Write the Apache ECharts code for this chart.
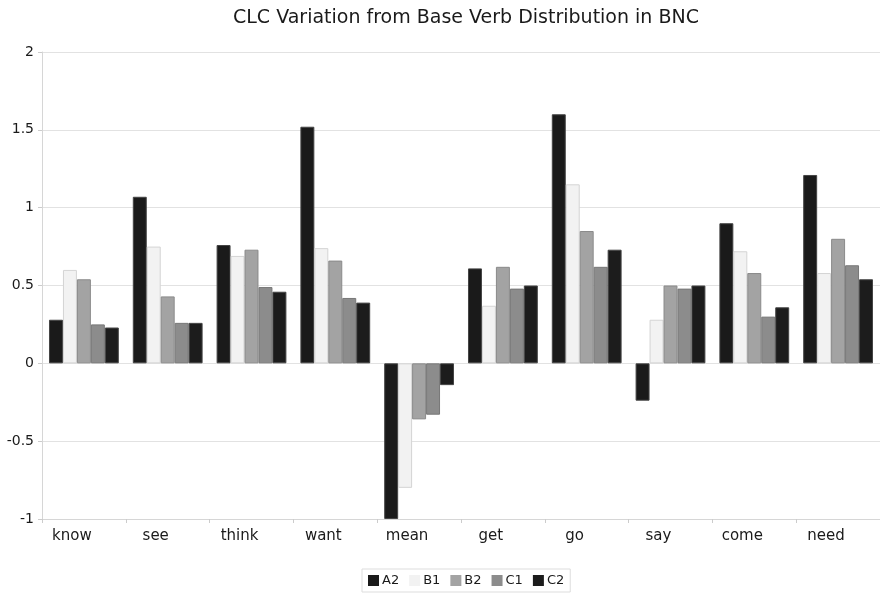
<!DOCTYPE html>
<html>
<head>
<meta charset="utf-8">
<script src="https://cdn.jsdelivr.net/npm/echarts@6/dist/echarts.min.js"></script>
<style>
  html, body { margin: 0; padding: 0; background: #fff; }
  #chart { width: 880px; height: 593px; }
</style>
</head>
<body>
<div id="chart"></div>
<script>
  var verbs = ['know', 'see', 'think', 'want', 'mean', 'get', 'go', 'say', 'come', 'need']
  var levels = ['A2', 'B1', 'B2', 'C1', 'C2']

  var a2 = [0.28, 1.07, 0.76, 1.52, -1.0, 0.61, 1.60, -0.24, 0.90, 1.21]
  var b1 = [0.60, 0.75, 0.69, 0.74, -0.80, 0.37, 1.15, 0.28, 0.72, 0.58]
  var b2 = [0.54, 0.43, 0.73, 0.66, -0.36, 0.62, 0.85, 0.50, 0.58, 0.80]
  var c1 = [0.25, 0.26, 0.49, 0.42, -0.33, 0.48, 0.62, 0.48, 0.30, 0.63]
  var c2 = [0.23, 0.26, 0.46, 0.39, -0.14, 0.50, 0.73, 0.50, 0.36, 0.54]

  var yTicks = [-1, -0.5, 0, 0.5, 1, 1.5, 2]

  var values = [a2, b1, b2, c1, c2]
  var fills = ['#1a1a1a', '#f2f2f2', '#a3a3a3', '#8c8c8c', '#1c1c1c']
  var borders = ['#444', '#d4d4d4', '#8a8a8a', '#777', '#444']

  var chart = echarts.init(document.getElementById('chart'))

  chart.setOption({
    backgroundColor: '#fff',
    textStyle: {fontFamily: 'DejaVu Sans'},
    title: {
      text: 'CLC Variation from Base Verb Distribution in BNC',
      left: 228,
      top: 4,
      textStyle: {fontFamily: 'DejaVu Sans', fontSize: 19, fontWeight: 'normal', color: '#1a1a1a'}
    },
    legend: {
      data: levels,
      icon: 'rect',
      bottom: 1,
      left: 362,
      itemWidth: 11,
      itemHeight: 11,
      itemGap: 10,
      padding: [5, 6],
      borderColor: '#ddd',
      borderWidth: 1,
      itemStyle: {borderWidth: 0},
      textStyle: {fontFamily: 'DejaVu Sans', fontSize: 13, color: '#1a1a1a', padding: [0, 0, 0, -2]}
    },
    grid: {
      left: 42,
      right: 0,
      top: 52,
      bottom: 74
    },
    xAxis: {
      type: 'category',
      data: verbs,
      axisLine: {onZero: false, lineStyle: {color: '#d6d6d6'}},
      axisTick: {show: true, length: 4, lineStyle: {color: '#ccc'}},
      axisLabel: {
        fontFamily: 'DejaVu Sans',
        fontSize: 15,
        color: '#1a1a1a',
        margin: 10,
        align: 'center',
        padding: [0, 24, 0, 0]
      }
    },
    yAxis: {
      type: 'value',
      min: yTicks[0],
      max: yTicks[yTicks.length - 1],
      interval: 0.5,
      axisLine: {show: true, lineStyle: {color: '#d6d6d6'}},
      axisTick: {show: true, length: 4, lineStyle: {color: '#ccc'}},
      splitLine: {lineStyle: {color: '#e2e2e2'}},
      axisLabel: {fontFamily: 'DejaVu Sans', fontSize: 14, color: '#1a1a1a', margin: 8}
    },
    series: levels.map(function (name, i) {
      return {
        name: name,
        type: 'bar',
        data: values[i],
        barGap: '0%',
        barCategoryGap: '16.7%',
        itemStyle: {color: fills[i], borderColor: borders[i], borderWidth: 1}
      }
    })
  })
</script>
</body>
</html>
